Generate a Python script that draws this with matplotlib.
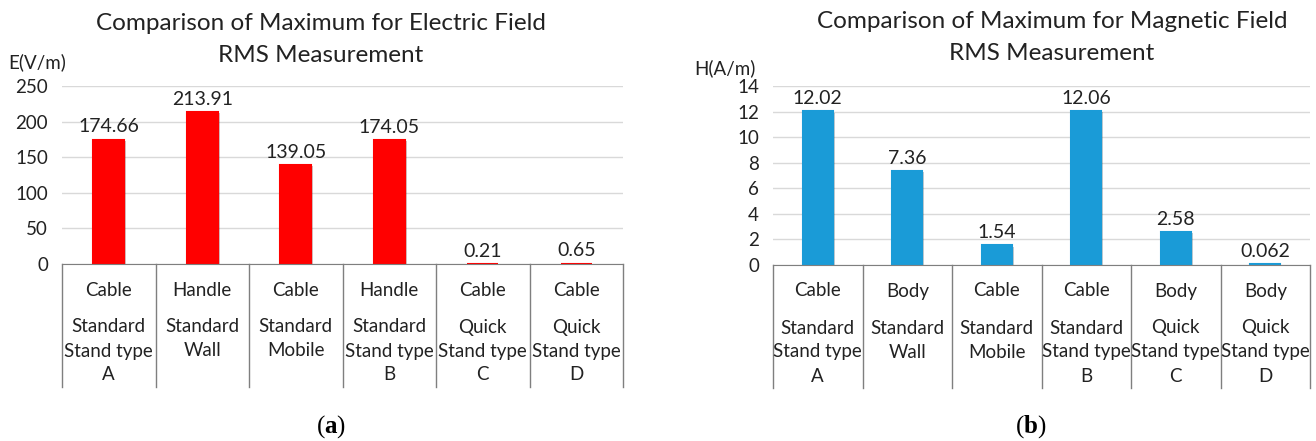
import matplotlib.pyplot as plt
import matplotlib.patheffects as pe
import numpy as np

# data
positions = ["Cable", "Handle", "Cable", "Handle", "Cable", "Cable"]
groups_e = ["Standard\nStand type\nA", "Standard\nWall", "Standard\nMobile",
            "Standard\nStand type\nB", "Quick\nStand type\nC", "Quick\nStand type\nD"]
e_values = [174.66, 213.91, 139.05, 174.05, 0.21, 0.65]
e_labels = ["174.66", "213.91", "139.05", "174.05", "0.21", "0.65"]

positions_h = ["Cable", "Body", "Cable", "Cable", "Body", "Body"]
groups_h = groups_e
h_values = [12.02, 7.36, 1.54, 12.06, 2.58, 0.062]
h_labels = ["12.02", "7.36", "1.54", "12.06", "2.58", "0.062"]

W, H = 1316, 441
plt.rcParams['font.family'] = ['Lato', 'DejaVu Sans']
plt.rcParams['mathtext.fontset'] = 'custom'
plt.rcParams['mathtext.rm'] = 'Liberation Serif'
plt.rcParams['mathtext.bf'] = 'Liberation Serif:bold'
fig = plt.figure(figsize=(W / 100, H / 100), dpi=100)
TXT = '#222222'


def px_box(x0, x1, y_top, y_bottom):
    # pixel box (from top-left) -> figure fraction rect
    return [x0 / W, (H - y_bottom) / H, (x1 - x0) / W, (y_bottom - y_top) / H]


def draw_panel(ax, values, labels, pos, groups, color, ymax, step, box):
    x = np.arange(len(values))
    ax.set_axisbelow(True)
    bars = ax.bar(x, values, width=0.33, color=color, edgecolor=color, lw=1.5, zorder=3)
    for b in bars:
        b.set_path_effects([pe.SimplePatchShadow(offset=(1.5, -1), alpha=0.25), pe.Normal()])
    ax.set_xlim(-0.5, len(values) - 0.5)
    ax.set_ylim(0, ymax)
    ax.set_yticks(np.arange(0, ymax + step / 2, step))
    ax.yaxis.grid(True, color='#d9d9d9', lw=1)
    ax.tick_params(axis='y', length=0, labelsize=13.5, pad=10, labelcolor=TXT)
    ax.set_xticks([])
    for s in ['top', 'right', 'left']:
        ax.spines[s].set_visible(False)
    ax.spines['bottom'].set_color('#7f7f7f')
    ax.spines['bottom'].set_zorder(4)

    for xi, v, lab in zip(x, values, labels):
        ax.annotate(lab, (xi, v), xytext=(0, 3), textcoords='offset points',
                    ha='center', va='bottom', fontsize=14, color=TXT)

    ax_h = box[3] * H  # axes height in px
    tr = ax.get_xaxis_transform()
    sep_len = 123 / ax_h
    for xs in np.arange(-0.5, len(values), 1.0):
        ax.plot([xs, xs], [0, -sep_len], transform=tr, color='#7f7f7f', lw=1, clip_on=False)
    for xi, p, g in zip(x, pos, groups):
        ax.text(xi, -26 / ax_h, p, transform=tr, ha='center', va='center', fontsize=13.5, color=TXT)
        for k, line in enumerate(g.split('\n')):
            ax.text(xi, -(63 + 24 * k) / ax_h, line, transform=tr, ha='center', va='center',
                    fontsize=13.5, color=TXT)


box_a = px_box(62, 623, 86, 264)
ax1 = fig.add_axes(box_a)
draw_panel(ax1, e_values, e_labels, positions, groups_e, '#ff0000', 250, 50, box_a)
box_b = px_box(773, 1310, 86, 265)
ax2 = fig.add_axes(box_b)
draw_panel(ax2, h_values, h_labels, positions_h, groups_h, '#1a9bd7', 14, 2, box_b)

# titles and unit labels
fig.text(321 / W, 1 - 23 / H, "Comparison of Maximum for Electric Field", ha='center', va='center',
         fontsize=17.5, color=TXT)
fig.text(321 / W, 1 - 56 / H, "RMS Measurement", ha='center', va='center', fontsize=17.5, color=TXT)
fig.text(8 / W, 1 - 62 / H, "E(V/m)", ha='left', va='center', fontsize=13.5, color=TXT)

fig.text(1052 / W, 1 - 21 / H, "Comparison of Maximum for Magnetic Field", ha='center', va='center',
         fontsize=17.5, color=TXT)
fig.text(1052 / W, 1 - 54 / H, "RMS Measurement", ha='center', va='center', fontsize=17.5, color=TXT)
fig.text(694 / W, 1 - 68 / H, "H(A/m)", ha='left', va='center', fontsize=13.5, color=TXT)

# captions
for cx, letter in [(331, 'a'), (1031, 'b')]:
    fig.text(cx / W, 1 - 427 / H, r'$(\mathbf{%s})$' % letter, ha='center', va='center', fontsize=18)

fig.savefig('out.png', dpi=100)
